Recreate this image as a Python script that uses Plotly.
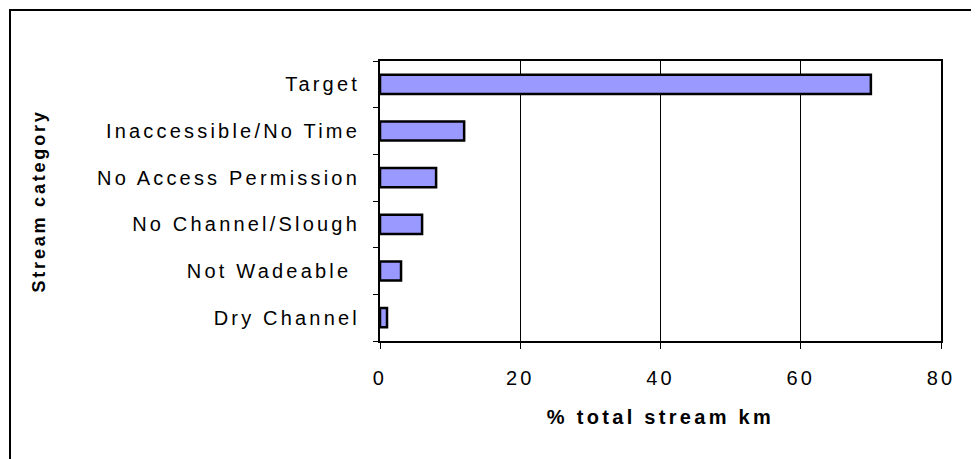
import plotly.graph_objects as go

categories = ["Target", "Inaccessible/No Time", "No Access Permission",
              "No Channel/Slough", "Not Wadeable ", "Dry Channel"]
values = [70, 12, 8, 6, 3, 1]
x_ticks = [0, 20, 40, 60, 80]

# page body has an 8px margin, so figure coords = screen coords - 8
W, H = 979, 459
ML, MT = 372, 53
PR, PB = 933, 333
MR, MB = W - PR, H - PB
pw = PR - ML
ph = PB - MT

fig = go.Figure(go.Bar(
    y=categories, x=values, orientation="h",
    marker=dict(color="#9999FF", line=dict(color="black", width=2.5)),
))

fam = "Liberation Sans, Arial, sans-serif"
font = dict(family=fam, size=20, color="black")

fig.update_layout(
    width=W, height=H,
    margin=dict(l=ML, r=MR, t=MT, b=MB, autoexpand=False),
    paper_bgcolor="white", plot_bgcolor="white",
    bargap=0.59, showlegend=False,
    font=font,
    xaxis=dict(range=[0, 80], tickvals=x_ticks, showgrid=True, gridcolor="black",
               gridwidth=1, showline=True, linecolor="black", linewidth=2,
               mirror=True, ticks="outside", ticklen=6, tickcolor="black",
               tickwidth=1, zeroline=False, tickfont=font, ticklabelstandoff=12,
               title=dict(text="<b>% total stream km</b>",
                          font=dict(family=fam, size=20, color="black"), standoff=22)),
    yaxis=dict(categoryorder="array", categoryarray=categories[::-1],
               showgrid=False, showline=True, linecolor="black", linewidth=2,
               mirror=True, ticks="outside", ticklen=5, tickcolor="black",
               tickwidth=1, tickson="boundaries", tickfont=font,
               ticklabelstandoff=14,
               title=dict(text="<b>Stream category</b>",
                          font=dict(family=fam, size=18, color="black"), standoff=111)),
)

fig.add_shape(type="rect", xref="paper", yref="paper",
              x0=(2 - ML) / pw, x1=1.3, y0=-0.6, y1=1 + (MT - 2) / ph,
              line=dict(color="black", width=2), fillcolor="rgba(0,0,0,0)",
              layer="below")

css = ("g.xtick text, g.ytick text {letter-spacing: 3.2px;} "
       "text.xtitle {letter-spacing: 3.3px;} text.ytitle {letter-spacing: 2.8px;}")
post = ("var s=document.createElement('style');s.textContent=%r;"
        "document.head.appendChild(s);" % css)

fig.write_html("out.html", post_script=post)
